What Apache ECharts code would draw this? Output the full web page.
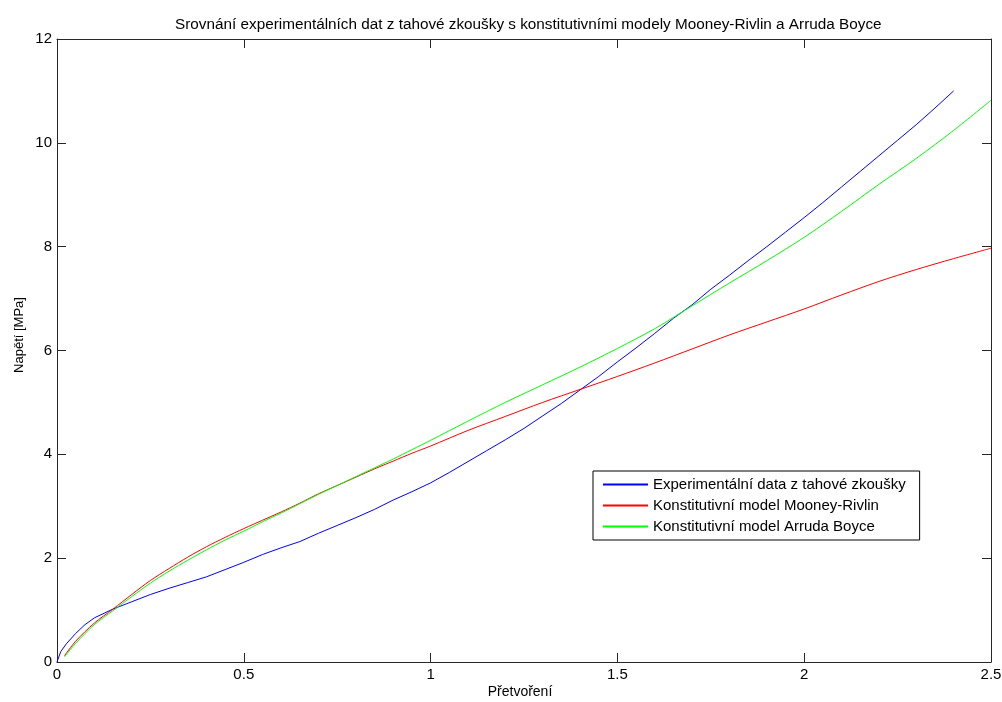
<!DOCTYPE html>
<html>
<head>
<meta charset="utf-8">
<script src="https://cdn.jsdelivr.net/npm/echarts@6/dist/echarts.min.js"></script>
<style>
  html, body { margin: 0; padding: 0; background: #ffffff; }
  #chart { width: 1002px; height: 702px; }
</style>
</head>
<body>
<div id="chart"></div>
<script>
// Tensile test: measured stress-strain curve
const strainExp = [0, 0.01, 0.025, 0.05, 0.075, 0.1, 0.15, 0.2, 0.25, 0.3, 0.35, 0.4, 0.45, 0.5, 0.55, 0.6, 0.65, 0.7, 0.75, 0.8, 0.85, 0.9, 0.95, 1.0, 1.05, 1.1, 1.15, 1.2, 1.25, 1.3, 1.35, 1.4, 1.45, 1.5, 1.55, 1.6, 1.65, 1.7, 1.75, 1.8, 1.85, 1.9, 1.95, 2.0, 2.05, 2.1, 2.15, 2.2, 2.25, 2.3, 2.35, 2.4];
const stressExp = [0, 0.2, 0.35, 0.55, 0.72, 0.85, 1.02, 1.16, 1.30, 1.42, 1.53, 1.64, 1.78, 1.92, 2.07, 2.20, 2.32, 2.48, 2.63, 2.78, 2.94, 3.12, 3.28, 3.45, 3.65, 3.86, 4.07, 4.28, 4.50, 4.74, 4.98, 5.24, 5.50, 5.78, 6.05, 6.33, 6.62, 6.88, 7.18, 7.45, 7.73, 8.00, 8.28, 8.56, 8.85, 9.15, 9.45, 9.75, 10.05, 10.35, 10.67, 11.0];

// Constitutive model curves
const strainModel = [0.02, 0.05, 0.1, 0.15, 0.2, 0.25, 0.3, 0.35, 0.4, 0.45, 0.5, 0.55, 0.6, 0.65, 0.7, 0.75, 0.8, 0.85, 0.9, 0.95, 1.0, 1.1, 1.2, 1.3, 1.4, 1.5, 1.6, 1.7, 1.8, 1.9, 2.0, 2.1, 2.2, 2.3, 2.4, 2.5];
const stressMooney = [0.12, 0.40, 0.75, 1.02, 1.30, 1.57, 1.80, 2.02, 2.22, 2.40, 2.57, 2.73, 2.89, 3.06, 3.24, 3.40, 3.56, 3.72, 3.87, 4.02, 4.16, 4.46, 4.73, 5.00, 5.25, 5.50, 5.76, 6.03, 6.30, 6.55, 6.80, 7.07, 7.33, 7.56, 7.77, 7.97];
const stressArruda = [0.10, 0.36, 0.72, 0.99, 1.26, 1.52, 1.75, 1.96, 2.16, 2.35, 2.52, 2.70, 2.87, 3.05, 3.23, 3.40, 3.57, 3.74, 3.91, 4.09, 4.27, 4.64, 5.00, 5.34, 5.68, 6.04, 6.42, 6.86, 7.30, 7.73, 8.18, 8.68, 9.20, 9.70, 10.24, 10.82];

const xTicks = [0, 0.5, 1, 1.5, 2, 2.5];
const yTicks = [0, 2, 4, 6, 8, 10, 12];

const seriesNames = [
  'Experimentální data z tahové zkoušky',
  'Konstitutivní model Mooney-Rivlin',
  'Konstitutivní model Arruda Boyce'
];

const pairs = (xs, ys) => xs.map((x, i) => [x, ys[i]]);

const FONT = 'Liberation Sans, Arial, sans-serif';
const AX = '#262626';

function xAxisCfg(pos, withLabels) {
  return {
    type: 'value', position: pos,
    min: xTicks[0], max: xTicks[xTicks.length - 1], interval: 0.5,
    axisLine: { show: true, onZero: false, lineStyle: { color: AX, width: 1 } },
    axisTick: { show: true, inside: true, length: 9, lineStyle: { color: AX } },
    axisLabel: { show: withLabels, color: '#000', fontFamily: FONT, fontSize: 15, margin: 5,
      formatter: v => String(v) },
    splitLine: { show: false }
  };
}
function yAxisCfg(pos, withLabels) {
  return {
    type: 'value', position: pos,
    min: yTicks[0], max: yTicks[yTicks.length - 1], interval: 2,
    axisLine: { show: true, onZero: false, lineStyle: { color: AX, width: 1 } },
    axisTick: { show: true, inside: true, length: 9, lineStyle: { color: AX } },
    axisLabel: { show: withLabels, color: '#000', fontFamily: FONT, fontSize: 15, margin: 5 },
    splitLine: { show: false }
  };
}

const chart = echarts.init(document.getElementById('chart'), null, { renderer: 'canvas' });
chart.setOption({
  backgroundColor: '#ffffff',
  animation: false,
  title: {
    text: 'Srovnání experimentálních dat z tahové zkoušky s konstitutivními modely Mooney-Rivlin a Arruda Boyce',
    left: 170, top: 12,
    textStyle: { color: '#000', fontFamily: FONT, fontSize: 15.3, fontWeight: 'normal' }
  },
  graphic: [{
    type: 'text',
    x: 19, y: 335,
    rotation: Math.PI / 2,
    style: {
      text: 'Napětí [MPa]',
      fill: '#000', font: '13px ' + FONT,
      align: 'center', verticalAlign: 'middle'
    }
  }, {
    type: 'text',
    x: 520, y: 692,
    style: {
      text: 'Přetvoření',
      fill: '#000', font: '14px ' + FONT,
      align: 'center', verticalAlign: 'middle'
    }
  }],
  grid: { left: 57, right: 11, top: 39, bottom: 40, containLabel: false, outerBoundsMode: 'none' },
  xAxis: [xAxisCfg('bottom', true), xAxisCfg('top', false)],
  yAxis: [yAxisCfg('left', true), yAxisCfg('right', false)],
  legend: {
    orient: 'vertical',
    left: 593, top: 471,
    padding: [6, 14, 6, 10],
    itemGap: 6,
    itemWidth: 45, itemHeight: 2,
    backgroundColor: '#ffffff',
    borderColor: '#000', borderWidth: 1, borderRadius: 0,
    textStyle: { color: '#000', fontFamily: FONT, fontSize: 15 },
    data: seriesNames.map(n => ({ name: n, icon: 'rect' }))
  },
  series: [
    { name: seriesNames[0], type: 'line', data: pairs(strainExp, stressExp),
      symbol: 'none', lineStyle: { color: '#0000ff', width: 1 }, itemStyle: { color: '#0000ff' } },
    { name: seriesNames[1], type: 'line', data: pairs(strainModel, stressMooney), smooth: 0.3,
      symbol: 'none', lineStyle: { color: '#ff0000', width: 1 }, itemStyle: { color: '#ff0000' } },
    { name: seriesNames[2], type: 'line', data: pairs(strainModel, stressArruda), smooth: 0.3,
      symbol: 'none', lineStyle: { color: '#00ff00', width: 1 }, itemStyle: { color: '#00ff00' } }
  ]
});
</script>
</body>
</html>
